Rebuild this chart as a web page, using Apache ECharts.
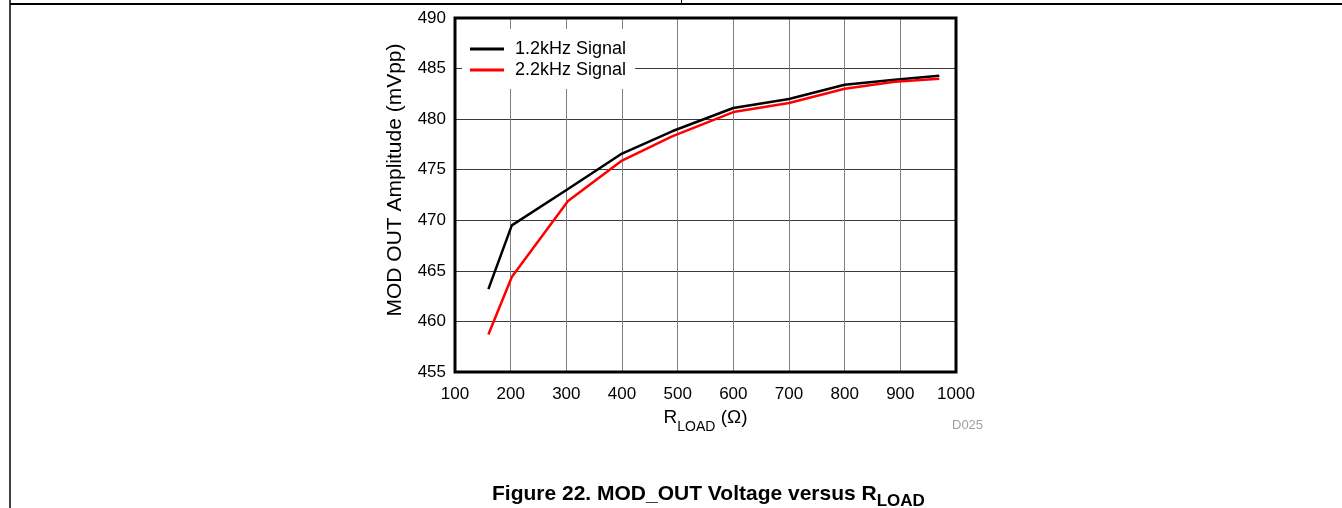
<!DOCTYPE html>
<html>
<head>
<meta charset="utf-8">
<script src="https://cdn.jsdelivr.net/npm/echarts@6/dist/echarts.min.js"></script>
<style>
html,body{margin:0;padding:0;background:#fff;}
#chart{width:1342px;height:508px;}
</style>
</head>
<body>
<div id="chart"></div>
<script>
const rLoad = [160, 202, 303, 400, 490, 600, 700, 800, 890, 970];
const signal12 = [463.2, 469.5, 473.1, 476.6, 478.8, 481.1, 482.0, 483.4, 483.9, 484.3];
const signal22 = [458.7, 464.4, 471.9, 475.9, 478.3, 480.7, 481.6, 483.0, 483.7, 484.0];
const seriesNames = ['1.2kHz Signal', '2.2kHz Signal'];
const xTicks = {min: 100, max: 1000, interval: 100};
const yTicks = {min: 455, max: 490, interval: 5};

const font = '"Liberation Sans", Arial, sans-serif';
const chart = echarts.init(document.getElementById('chart'), null, {renderer: 'canvas'});
const pairs = (xs, ys) => xs.map((x, i) => [x, ys[i]]);

chart.setOption({
  animation: false,
  backgroundColor: '#fff',
  grid: {left: 455, right: 386, top: 18, bottom: 136, show: true, borderColor: '#000', borderWidth: 3, backgroundColor: 'transparent', z: 3},
  legend: {
    left: 462, top: 29, orient: 'vertical',
    backgroundColor: '#fff', borderWidth: 0,
    padding: [11, 9, 10, 8],
    icon: 'path://M0,0H34V3H0Z',
    itemWidth: 34, itemHeight: 3, itemGap: 3,
    textStyle: {fontFamily: font, fontSize: 18, color: '#000', padding: [0, 0, 0, 6]},
    data: seriesNames
  },
  xAxis: {
    type: 'value', min: xTicks.min, max: xTicks.max, interval: xTicks.interval,
    axisLine: {show: false}, axisTick: {show: false},
    axisLabel: {fontFamily: font, fontSize: 17, color: '#000', margin: 14, formatter: v => String(v)},
    splitLine: {show: true, lineStyle: {color: '#808080', width: 1}},
    name: '{m|R}{s|LOAD}{m| (Ω)}', nameLocation: 'middle', nameGap: 30,
    nameTextStyle: {rich: {m: {fontFamily: font, fontSize: 19, color: '#000', verticalAlign: 'bottom', lineHeight: 22}, s: {fontFamily: font, fontSize: 14, color: '#000', verticalAlign: 'bottom', lineHeight: 16, padding: [0,0,-7,0]}}}
  },
  yAxis: {
    type: 'value', min: yTicks.min, max: yTicks.max, interval: yTicks.interval,
    axisLine: {show: false}, axisTick: {show: false},
    axisLabel: {fontFamily: font, fontSize: 17, color: '#000', margin: 9},
    splitLine: {show: true, lineStyle: {color: '#3a3a3a', width: 1}},
    name: 'MOD OUT Amplitude (mVpp)', nameLocation: 'middle', nameGap: 49,
    nameTextStyle: {fontFamily: font, fontSize: 21, color: '#000', padding: [0, 0, 0, 30]}
  },
  series: [
    {name: seriesNames[0], type: 'line', data: pairs(rLoad, signal12), symbol: 'none', lineStyle: {color: '#000', width: 2.5}, itemStyle: {color: '#000'}, z: 4},
    {name: seriesNames[1], type: 'line', data: pairs(rLoad, signal22), symbol: 'none', lineStyle: {color: '#ff0000', width: 2.5}, itemStyle: {color: '#ff0000'}, z: 5}
  ],
  graphic: [
    {type: 'line', shape: {x1: 10, y1: 4, x2: 1342, y2: 4}, style: {stroke: '#000', lineWidth: 2}, silent: true},
    {type: 'line', shape: {x1: 10, y1: 0, x2: 10, y2: 508}, style: {stroke: '#000', lineWidth: 1.5}, silent: true},
    {type: 'line', shape: {x1: 681.5, y1: 0, x2: 681.5, y2: 4}, style: {stroke: '#000', lineWidth: 1}, silent: true},
    {type: 'text', left: 952, top: 419, style: {text: 'D025', font: '13px ' + font, fill: '#a0a0a0'}, silent: true},
    {type: 'text', left: 492, top: 484, style: {
      text: '{b|Figure 22. MOD_OUT Voltage versus R}{s|LOAD}',
      rich: {b: {font: 'bold 21px ' + font, fill: '#000', verticalAlign: 'bottom', lineHeight: 24}, s: {font: 'bold 17px ' + font, fill: '#000', verticalAlign: 'bottom', lineHeight: 19, padding: [0,0,-5,0]}}
    }, silent: true}
  ]
});
</script>
</body>
</html>
